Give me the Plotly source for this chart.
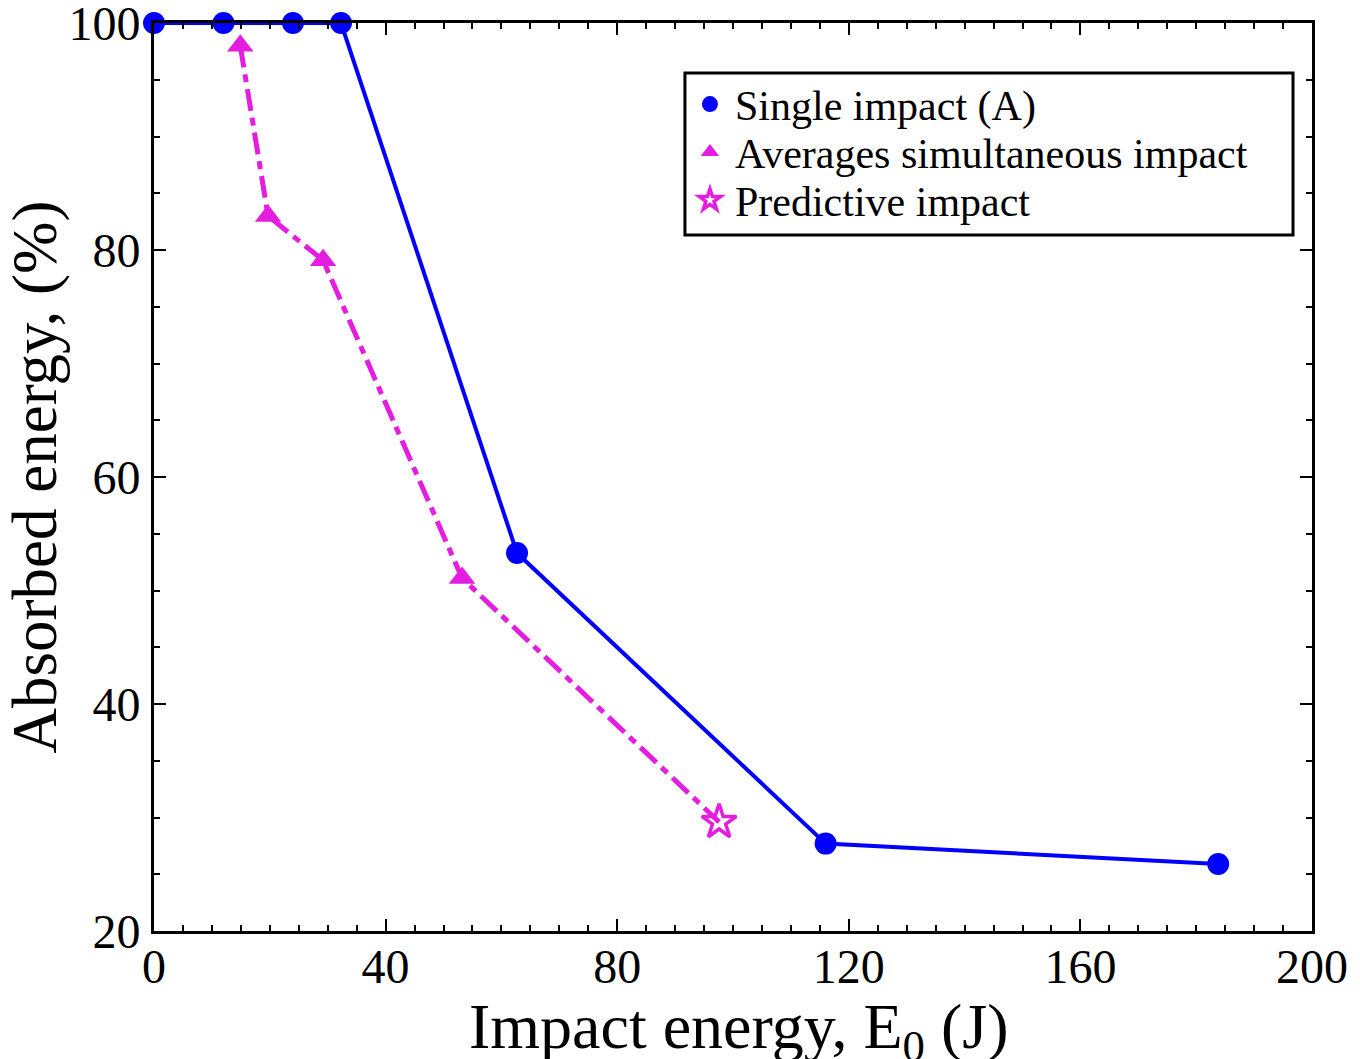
import plotly.graph_objects as go

# Single impact (A)
single_x = [0, 12, 24, 32.3, 62.7, 116.0, 183.8]
single_y = [100, 100, 100, 100, 53.3, 27.7, 25.9]

# Averages of simultaneous impact
avg_x = [14.9, 19.7, 29.2, 53.2]
avg_y = [98.0, 83.0, 79.1, 51.1]

# Predictive impact
pred_x = [97.6]
pred_y = [29.6]

BLUE = "#0000ff"
PINK = "#e51de0"
FONT = "Times New Roman, Liberation Serif, Tinos, serif"

fig = go.Figure()

# Dash-dot connector from the averaged points to the prediction
fig.add_trace(go.Scatter(
    x=avg_x + pred_x, y=avg_y + pred_y, mode="lines",
    line=dict(color=PINK, width=5, dash="22px,7px,8px,7px"),
    showlegend=False, cliponaxis=False, hoverinfo="skip"))

fig.add_trace(go.Scatter(
    x=single_x, y=single_y, mode="lines+markers",
    line=dict(color=BLUE, width=4),
    marker=dict(symbol="circle", size=22, color=BLUE),
    showlegend=False, cliponaxis=False))

fig.add_trace(go.Scatter(
    x=avg_x, y=avg_y, mode="markers",
    marker=dict(symbol="triangle-up", size=23, color=PINK),
    showlegend=False, cliponaxis=False))

fig.add_trace(go.Scatter(
    x=pred_x, y=pred_y, mode="markers",
    marker=dict(symbol="star-open", size=26, color=PINK, line=dict(width=3.5, color=PINK)),
    showlegend=False, cliponaxis=False))

# Marker-only legend entries, one per stacked legend row
fig.add_trace(go.Scatter(x=[None], y=[None], mode="markers", name="Single impact (A)",
                         marker=dict(symbol="circle", size=22, color=BLUE), legend="legend"))
fig.add_trace(go.Scatter(x=[None], y=[None], mode="markers", name="Averages simultaneous impact",
                         marker=dict(symbol="triangle-up", size=22, color=PINK), legend="legend2"))
fig.add_trace(go.Scatter(x=[None], y=[None], mode="markers", name="Predictive impact",
                         marker=dict(symbol="star-open", size=22, color=PINK,
                                     line=dict(width=3.5, color=PINK)), legend="legend3"))

axis_common = dict(
    showline=True, linewidth=3, linecolor="black", mirror="allticks",
    ticks="inside", ticklen=12, tickwidth=2, tickcolor="black",
    showgrid=False, zeroline=False, automargin=False,
    ticklabeloverflow="allow",
    tickfont=dict(family=FONT, size=48, color="black"),
)

fig.update_xaxes(
    range=[0, 200], tickmode="array", tickvals=[0, 40, 80, 120, 160, 200],
    minor=dict(ticks="inside", ticklen=6, tickwidth=2, tickcolor="black", dtick=5, showgrid=False),
    ticklabelstandoff=-9,
    **axis_common)

fig.update_yaxes(
    range=[20, 100], tickmode="array", tickvals=[20, 40, 60, 80, 100],
    minor=dict(ticks="inside", ticklen=6, tickwidth=2, tickcolor="black", dtick=5, showgrid=False),
    title=dict(text="Absorbed energy, (%)",
               font=dict(family=FONT, size=63, color="black"), standoff=8),
    ticklabelstandoff=1,
    **axis_common)

legend_row = dict(
    x=0.4585, xanchor="left", yanchor="middle",
    bgcolor="rgba(0,0,0,0)", borderwidth=0,
    font=dict(family=FONT, size=42, color="black"),
    itemwidth=40,
)

fig.update_layout(
    width=1360, height=1059,
    margin=dict(l=154, r=48, t=23, b=128),
    paper_bgcolor="white", plot_bgcolor="white",
    font=dict(family=FONT, color="black"),
    legend=dict(y=0.9105, **legend_row),
    legend2=dict(y=0.8576, **legend_row),
    legend3=dict(y=0.8048, **legend_row),
    shapes=[dict(type="rect", xref="paper", yref="paper",
                 x0=0.4585, x1=0.9836, y0=0.7665, y1=0.9449,
                 line=dict(color="black", width=3), fillcolor="rgba(0,0,0,0)")],
    # x-axis title, placed low enough that it runs off the bottom edge
    annotations=[dict(text="Impact energy, E<sub>0</sub> (J)", showarrow=False,
                      xref="paper", yref="paper", x=0.505, y=-0.0640,
                      xanchor="center", yanchor="top",
                      font=dict(family=FONT, size=64, color="black"))],
)

fig.write_html("out.html")
